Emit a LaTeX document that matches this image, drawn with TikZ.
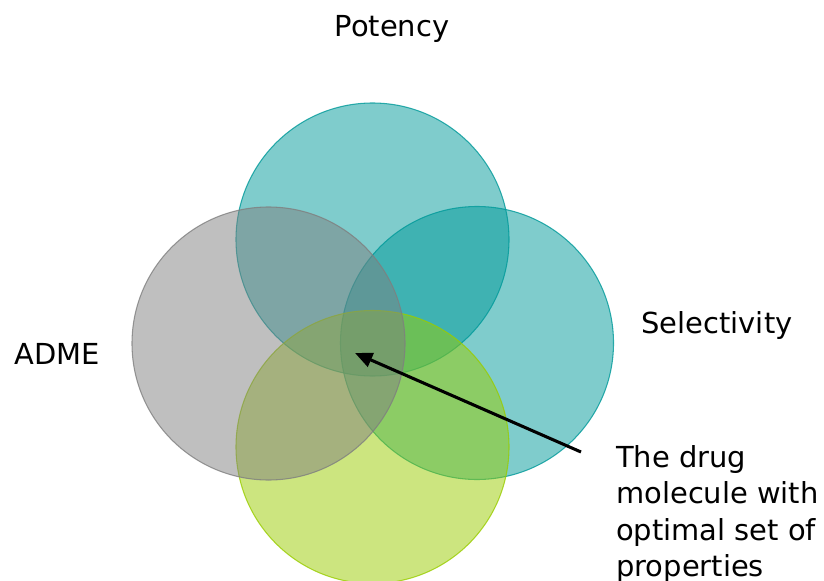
\documentclass[tikz,border=0pt]{standalone}
\usepackage{fontspec}
\setmainfont{DejaVu Sans}
\usetikzlibrary{arrows.meta}
\definecolor{tealfill}{RGB}{0,153,153}
\definecolor{greyfill}{RGB}{127,127,127}
\definecolor{limefill}{RGB}{153,204,0}
\newlength{\pxu}
\setlength{\pxu}{0.75pt}
\tikzset{
  petal/.style={circle, minimum size=273\pxu, inner sep=0pt, line width=0.8pt,
                fill opacity=0.5, draw opacity=0.8},
  label/.style={inner sep=0pt, font=\fontsize{21.7}{27.4}\selectfont},
  pointer/.style={line width=2.3pt, -{Triangle[length=13pt,width=11pt]}}
}
\begin{document}
\begin{tikzpicture}[x=0.75pt, y=-0.75pt]
  \useasboundingbox (0,0) rectangle (824,581);
  % the four overlapping property circles
  \node[petal, fill=tealfill, draw=tealfill] (potency) at (372.5,239.5) {};
  \node[petal, fill=tealfill, draw=tealfill] (selectivity) at (477,343) {};
  \node[petal, fill=limefill, draw=limefill] (fourth) at (372.5,447) {};
  \node[petal, fill=greyfill, draw=greyfill] (adme) at (268.5,343.5) {};
  % labels
  \node[label, anchor=base] (tpot) at (392,37) {Potency};
  \node[label, anchor=base] (tsel) at (717,333) {Selectivity};
  \node[label, anchor=base] (tadme) at (57,364) {ADME};
  \node[label, anchor=north west, align=left] (tdrug) at (616,445)
    {The drug\\molecule with\\optimal set of\\properties};
  % pointer into the common intersection
  \coordinate (tail) at (581,452);
  \coordinate (core) at (355,353);
  \draw[pointer] (tail) -- (core);
\end{tikzpicture}
\end{document}
